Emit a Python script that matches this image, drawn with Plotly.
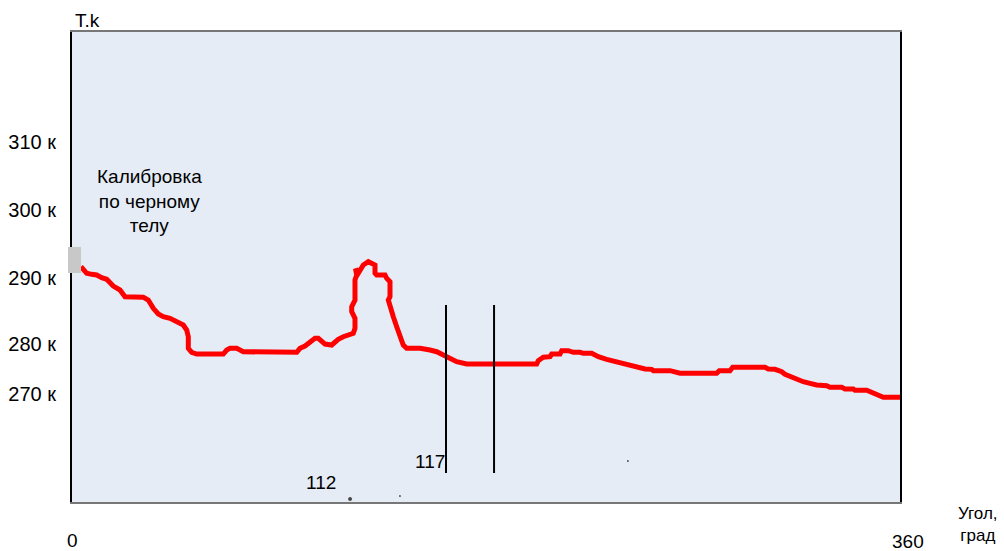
import plotly.graph_objects as go

# Angle (degrees) and temperature (K) of the measured profile
angle = [3.91, 6.39, 8.57, 10.74, 12.91, 15.09, 17.96, 20.87, 23.04, 31.0, 33.17, 35.35, 37.52, 39.70,
         42.61, 45.52, 48.39, 49.87, 50.57, 50.57, 52.04, 54.22, 65.78, 67.26, 68.70, 71.61, 74.48,
         97.70, 99.13, 101.30, 103.48, 105.65, 107.09, 108.57, 110.0, 112.91, 114.35, 115.78, 117.96,
         120.13, 121.61, 122.30, 123.04, 123.04, 121.61, 121.61, 123.04, 123.04, 123.78, 123.26, 124.13,
         124.48, 126.65, 128.83, 130.30, 131.74, 131.74, 132.48, 136.09, 136.83, 138.26, 138.26, 137.52,
         138.26, 139.70, 141.17, 142.61, 144.04, 145.52, 151.30, 155.65, 158.57, 161.43, 164.35, 167.26,
         171.61, 202.04, 202.74, 204.91, 207.83, 208.57, 212.17, 212.91, 215.78, 217.96, 220.87, 222.30,
         225.96, 228.83, 232.48, 234.65, 236.83, 239.70, 241.87, 244.78, 246.96, 249.13, 252.04, 252.74,
         260.0, 261.43, 264.35, 280.30, 281.43, 286.09, 287.26, 301.30, 302.74, 305.65, 308.57, 310.0,
         312.91, 315.09, 317.96, 320.87, 323.78, 328.13, 329.57, 334.65, 336.09, 339.70, 340.43, 345.52,
         346.96, 349.13, 351.30, 352.74, 360.0]
temperature = [291.66, 290.69, 290.54, 290.44, 290.04, 289.81, 288.82, 288.24, 287.25, 287.16, 286.76,
               285.54, 284.71, 284.31, 284.07, 283.57, 283.09, 282.35, 281.37, 279.66, 279.07, 278.82,
               278.82, 279.41, 279.66, 279.66, 279.16, 279.07, 279.66, 280.0, 280.63, 281.13, 281.13,
               280.63, 280.29, 280.15, 280.63, 280.99, 281.37, 281.57, 281.62, 281.87, 282.60, 284.07,
               285.04, 285.78, 286.76, 289.71, 290.44, 291.40, 290.81, 290.69, 291.91, 292.40, 292.16,
               291.91, 290.69, 290.44, 290.44, 289.96, 289.46, 287.25, 286.76, 285.78, 284.31, 282.84,
               281.37, 280.15, 279.66, 279.66, 279.41, 279.16, 278.68, 278.19, 277.69, 277.35, 277.35,
               277.84, 278.34, 278.43, 278.82, 278.82, 279.31, 279.31, 279.07, 279.07, 278.93, 278.93,
               278.43, 278.04, 277.84, 277.69, 277.46, 277.21, 277.06, 276.87, 276.62, 276.57, 276.37,
               276.37, 276.22, 275.99, 275.99, 276.37, 276.37, 276.87, 276.87, 276.62, 276.57, 276.22,
               275.84, 275.40, 275.0, 274.75, 274.51, 274.26, 274.16, 273.93, 273.93, 273.68, 273.68,
               273.49, 273.49, 273.28, 273.13, 272.79, 272.46, 272.46]

# Marker lines (angles) and their vertical extent
marker_angles = [162.6, 183.5]
marker_t_top = 286.03
marker_t_bottom = 261.32

# Stray dots
dot_angle = [120.9, 142.6, 241.7]
dot_temp = [257.5, 257.94, 263.09]

# Y tick labels
y_tickvals = [310, 300, 290, 280.37, 273.01]
y_ticktext = ["310 к", "300 к", "290 к", "280 к", "270 к"]

FONT = "Liberation Sans, Arial, sans-serif"

fig = go.Figure()
fig.add_trace(go.Scatter(x=angle, y=temperature, mode="lines",
                         line=dict(color="#ff0000", width=5), showlegend=False, hoverinfo="skip"))
for a in marker_angles:
    fig.add_trace(go.Scatter(x=[a, a], y=[marker_t_bottom, marker_t_top], mode="lines",
                             line=dict(color="black", width=2), showlegend=False, hoverinfo="skip"))
fig.add_trace(go.Scatter(x=dot_angle, y=dot_temp, mode="markers",
                         marker=dict(color="black", size=[5, 3, 3]), cliponaxis=False,
                         showlegend=False, hoverinfo="skip"))

fig.add_shape(type="rect", xref="paper", yref="paper",
              x0=-0.00483, x1=0.01087, y0=0.4872, y1=0.5426,
              fillcolor="#c8c8c8", line=dict(width=0), layer="above")

def ann(text, x, y, xref="paper", yref="paper", size=19):
    fig.add_annotation(text=text, x=x, y=y, xref=xref, yref=yref, showarrow=False,
                       xanchor="center", yanchor="middle", align="center",
                       font=dict(family=FONT, size=size, color="black"))

ann("Калибровка<br>по черному<br>телу", (149.5 - 72) * 360 / 828, 290 - (201 - 278) / 6.8, "x", "y")
ann("117", (430 - 72) * 360 / 828, 290 - (461.5 - 278) / 6.8, "x", "y")
ann("112", (321 - 72) * 360 / 828, 290 - (482 - 278) / 6.8, "x", "y")
ann("T.k", 0.0193, 1.0255)
ann("0", 0.0, -0.0809)
ann("360", 1.00966, -0.0830)
ann("Угол,<br>град", 1.0942, -0.048, size=17)

fig.update_layout(
    width=1004, height=551,
    margin=dict(l=72, r=104, t=32, b=49, autoexpand=False),
    paper_bgcolor="white", plot_bgcolor="#e5ecf6",
    hovermode=False,
    xaxis=dict(range=[0, 360], showgrid=False, zeroline=False, showticklabels=False,
               automargin=False,
               showline=True, linecolor="#777777", linewidth=2, mirror=True, ticks=""),
    yaxis=dict(range=[257.06, 326.18], showgrid=False, zeroline=False, automargin=False,
               tickvals=y_tickvals, ticktext=y_ticktext, ticks="", ticklabelstandoff=10,
               tickfont=dict(family=FONT, size=20, color="black"),
               showline=True, linecolor="black", linewidth=2, mirror=True),
)

fig.write_html("out.html", config={"displayModeBar": False},
               post_script="document.body.style.margin='0';document.body.style.overflow='hidden';")
